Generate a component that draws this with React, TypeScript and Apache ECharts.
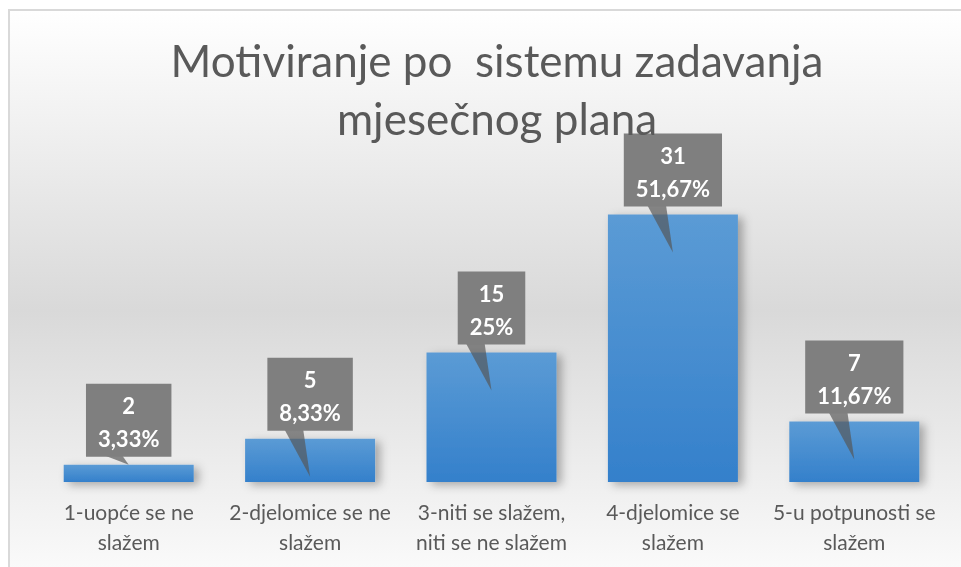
import React, { useEffect, useRef } from "react";
import * as echarts from "echarts";

const TITLE_LINES = ["Motiviranje po  sistemu zadavanja", "mjesečnog plana"];
const categories = [
  "1-uopće se ne\nslažem",
  "2-djelomice se ne\nslažem",
  "3-niti se slažem,\nniti se ne slažem",
  "4-djelomice se\nslažem",
  "5-u potpunosti se\nslažem",
];
const counts = [2, 5, 15, 31, 7];
const percentLabels = ["3,33%", "8,33%", "25%", "51,67%", "11,67%"];

const FONT = "Lato, 'Open Sans', 'DejaVu Sans', sans-serif";

export default function App() {
  const ref = useRef<HTMLDivElement>(null);
  useEffect(() => {
    if (!ref.current) return;
    const chart = echarts.init(ref.current, null, { renderer: "svg" });
    chart.setOption({
      animation: false,
      graphic: [
        {
          type: "rect",
          z: -10,
          silent: true,
          shape: { x: 9, y: 10, width: 966, height: 600 },
          style: {
            fill: new echarts.graphic.LinearGradient(0, 0, 0, 1, [
              { offset: 0, color: "#ffffff" },
              { offset: 0.5, color: "#d9d9d9" },
              { offset: 1, color: "#ffffff" },
            ]),
            stroke: "#d9d9d9",
            lineWidth: 2,
          },
        },
      ],
      title: {
        text: TITLE_LINES.join("\n"),
        left: 492,
        top: 26,
        textAlign: "center",
        textStyle: {
          fontFamily: FONT,
          fontSize: 44,
          fontWeight: "normal",
          color: "#595959",
          lineHeight: 58,
        },
      },
      grid: { left: 38, right: 16, top: 180, bottom: 85, containLabel: false },
      xAxis: {
        type: "category",
        data: categories,
        axisLine: { show: false },
        axisTick: { show: false },
        axisLabel: {
          interval: 0,
          margin: 14,
          color: "#595959",
          fontFamily: FONT,
          fontSize: 21,
          lineHeight: 30,
          align: "center",
        },
      },
      yAxis: {
        type: "value",
        min: 0,
        max: 35,
        show: false,
        splitLine: { show: false },
      },
      series: [
        {
          type: "bar",
          data: counts,
          barWidth: 130,
          z: 2,
          itemStyle: {
            color: new echarts.graphic.LinearGradient(0, 0, 0, 1, [
              { offset: 0, color: "#5b9bd5" },
              { offset: 1, color: "#3480cb" },
            ]),
            shadowColor: "rgba(0,0,0,0.3)",
            shadowBlur: 10,
            shadowOffsetX: 5,
            shadowOffsetY: 3,
          },
        },
        {
          type: "custom",
          z: 5,
          data: counts.map((v, i) => [i, v]),
          renderItem: (params: any, api: any) => {
            const i = api.value(0);
            const v = api.value(1);
            const top = api.coord([i, v]);
            const base = api.coord([i, 0]);
            const cx = top[0];
            const ty = top[1];
            const h = base[1] - ty;
            const tipY = h > 30 ? ty + 38 : ty;
            const boxBottom = ty - 8;
            return {
              type: "group",
              children: [
                {
                  type: "polygon",
                  shape: {
                    points: [
                      [cx - 26, boxBottom - 2],
                      [cx - 7, boxBottom - 2],
                      [cx, tipY],
                    ],
                  },
                  style: { fill: "rgba(85,85,85,0.68)" },
                },
                {
                  type: "text",
                  x: cx,
                  y: boxBottom,
                  style: {
                    text: `${counts[i]}\n${percentLabels[i]}`,
                    fill: "#ffffff",
                    fontFamily: FONT,
                    fontWeight: "bold",
                    fontSize: 22,
                    lineHeight: 33,
                    align: "center",
                    verticalAlign: "bottom",
                    backgroundColor: "#7f7f7f",
                    padding: [5, 12, 2, 12],
                  },
                },
              ],
            };
          },
        },
      ],
    });
    return () => chart.dispose();
  }, []);
  return (
    <div
      ref={ref}
      style={{ position: "fixed", left: 0, top: 0, width: 961, height: 567 }}
    />
  );
}
